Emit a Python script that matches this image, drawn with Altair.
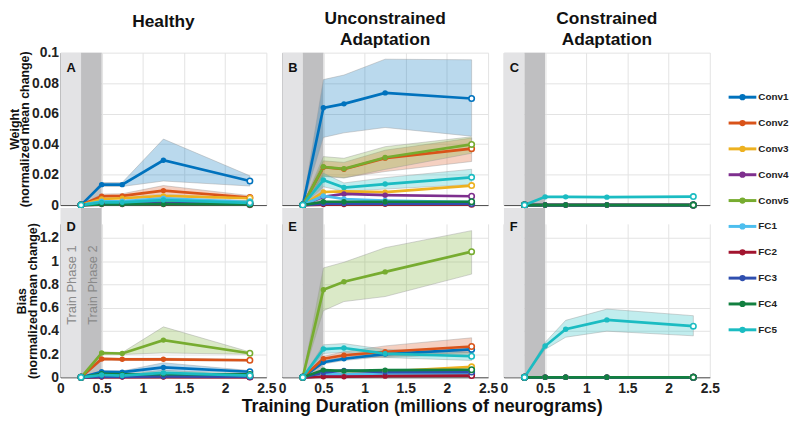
import altair as alt
import pandas as pd

X = [0.25, 0.5, 0.75, 1.25, 2.3]
SERIES = ["Conv1", "Conv2", "Conv3", "Conv4", "Conv5", "FC1", "FC2", "FC3", "FC4", "FC5"]
COLORS = ["#0072BD", "#D95319", "#EDB120", "#7E2F8E", "#77AC30",
          "#4DBEEE", "#A2142F", "#2F4FAF", "#128040", "#1BBCC2"]
COLUMNS = ["Healthy", "Unconstrained Adaptation", "Constrained Adaptation"]
X_TICKS = [0, 0.5, 1, 1.5, 2, 2.5]
W_TICKS = [0, 0.02, 0.04, 0.06, 0.08, 0.1]
B_TICKS = [0, 0.2, 0.4, 0.6, 0.8, 1, 1.2]
PHASE_LABELS = ["Train Phase 1", "Train Phase 2"]
PHASE_START = [0, 0.25]
PHASE_END = [0.25, 0.5]
PHASE_COLORS = ["#e3e3e5", "#bfbfc1"]

# ---- Weight, Healthy (A)
W_HEALTHY = {
    "Conv1": [0, 0.0134, 0.0134, 0.0294, 0.0158],
    "Conv2": [0, 0.0058, 0.0060, 0.0095, 0.0050],
    "Conv3": [0, 0.0040, 0.0045, 0.0060, 0.0045],
    "Conv4": [0, 0.0012, 0.0012, 0.0015, 0.0010],
    "Conv5": [0, 0.0020, 0.0020, 0.0030, 0.0020],
    "FC1": [0, 0.0025, 0.0025, 0.0045, 0.0020],
    "FC2": [0, 0.0003, 0.0003, 0.0004, 0.0003],
    "FC3": [0, 0.0008, 0.0008, 0.0010, 0.0008],
    "FC4": [0, 0.0005, 0.0005, 0.0006, 0.0005],
    "FC5": [0, 0.0018, 0.0018, 0.0033, 0.0015],
}
W_HEALTHY_LO = {
    "Conv1": [0, 0.0122, 0.0122, 0.0158, 0.0125],
    "Conv2": [0, 0.0045, 0.0047, 0.0072, 0.0040],
    "FC1": [0, 0.0018, 0.0018, 0.0025, 0.0012],
}
W_HEALTHY_HI = {
    "Conv1": [0, 0.0148, 0.0148, 0.0433, 0.0192],
    "Conv2": [0, 0.0072, 0.0074, 0.0128, 0.0062],
    "FC1": [0, 0.0032, 0.0032, 0.0065, 0.0028],
}

# ---- Weight, Unconstrained (B)
W_UNCON = {
    "Conv1": [0, 0.0638, 0.0664, 0.0736, 0.0699],
    "Conv2": [0, 0.0248, 0.0235, 0.0308, 0.0370],
    "Conv3": [0, 0.0086, 0.0090, 0.0085, 0.0128],
    "Conv4": [0, 0.0054, 0.0073, 0.0065, 0.0058],
    "Conv5": [0, 0.0251, 0.0238, 0.0312, 0.0398],
    "FC1": [0, 0.0060, 0.0040, 0.0030, 0.0020],
    "FC2": [0, 0.0003, 0.0004, 0.0005, 0.0005],
    "FC3": [0, 0.0010, 0.0010, 0.0010, 0.0010],
    "FC4": [0, 0.0022, 0.0022, 0.0022, 0.0022],
    "FC5": [0, 0.0164, 0.0115, 0.0138, 0.0182],
}
W_UNCON_LO = {
    "Conv1": [0, 0.0444, 0.0474, 0.0509, 0.0452],
    "Conv2": [0, 0.0190, 0.0180, 0.0220, 0.0286],
    "Conv5": [0, 0.0188, 0.0177, 0.0234, 0.0340],
    "FC5": [0, 0.0120, 0.0090, 0.0105, 0.0135],
}
W_UNCON_HI = {
    "Conv1": [0, 0.0823, 0.0853, 0.0957, 0.0953],
    "Conv2": [0, 0.0290, 0.0280, 0.0360, 0.0440],
    "Conv5": [0, 0.0318, 0.0307, 0.0383, 0.0448],
    "FC5": [0, 0.0210, 0.0145, 0.0180, 0.0235],
}

# ---- Weight, Constrained (C)
W_CON = {s: [0, 0, 0, 0, 0] for s in SERIES[:-1]}
W_CON["FC5"] = [0, 0.0054, 0.0054, 0.0052, 0.0056]
W_CON_LO = {}
W_CON_HI = {}

# ---- Bias, Healthy (D)
B_HEALTHY = {
    "Conv1": [0, 0.048, 0.045, 0.085, 0.048],
    "Conv2": [0, 0.158, 0.155, 0.155, 0.147],
    "Conv3": [0, 0.010, 0.010, 0.015, 0.010],
    "Conv4": [0, 0.004, 0.004, 0.005, 0.004],
    "Conv5": [0, 0.209, 0.205, 0.320, 0.207],
    "FC1": [0, 0.020, 0.020, 0.030, 0.020],
    "FC2": [0, 0.002, 0.002, 0.002, 0.002],
    "FC3": [0, 0.006, 0.006, 0.008, 0.006],
    "FC4": [0, 0.030, 0.025, 0.028, 0.025],
    "FC5": [0, 0.020, 0.015, 0.038, 0.015],
}
B_HEALTHY_LO = {
    "Conv1": [0, 0.040, 0.038, 0.055, 0.040],
    "Conv2": [0, 0.150, 0.147, 0.145, 0.140],
    "Conv5": [0, 0.200, 0.197, 0.210, 0.198],
    "FC5": [0, 0.015, 0.011, 0.020, 0.011],
}
B_HEALTHY_HI = {
    "Conv1": [0, 0.056, 0.054, 0.125, 0.058],
    "Conv2": [0, 0.166, 0.163, 0.165, 0.154],
    "Conv5": [0, 0.218, 0.213, 0.434, 0.218],
    "FC5": [0, 0.025, 0.019, 0.060, 0.019],
}

# ---- Bias, Unconstrained (E)
B_UNCON = {
    "Conv1": [0, 0.130, 0.160, 0.200, 0.240],
    "Conv2": [0, 0.160, 0.190, 0.220, 0.265],
    "Conv3": [0, 0.020, 0.030, 0.050, 0.090],
    "Conv4": [0, 0.010, 0.015, 0.020, 0.028],
    "Conv5": [0, 0.754, 0.822, 0.907, 1.081],
    "FC1": [0, 0.030, 0.030, 0.030, 0.030],
    "FC2": [0, 0.005, 0.005, 0.010, 0.015],
    "FC3": [0, 0.040, 0.060, 0.045, 0.045],
    "FC4": [0, 0.062, 0.055, 0.062, 0.065],
    "FC5": [0, 0.243, 0.252, 0.204, 0.181],
}
B_UNCON_LO = {
    "Conv1": [0, 0.115, 0.145, 0.180, 0.215],
    "Conv2": [0, 0.140, 0.170, 0.170, 0.200],
    "Conv5": [0, 0.573, 0.652, 0.695, 0.888],
    "FC5": [0, 0.205, 0.215, 0.170, 0.145],
}
B_UNCON_HI = {
    "Conv1": [0, 0.145, 0.175, 0.220, 0.265],
    "Conv2": [0, 0.180, 0.220, 0.270, 0.340],
    "Conv5": [0, 0.941, 0.990, 1.115, 1.262],
    "FC5": [0, 0.280, 0.290, 0.240, 0.215],
}

# ---- Bias, Constrained (F)
B_CON = {s: [0, 0, 0, 0, 0] for s in SERIES[:-1]}
B_CON["FC5"] = [0, 0.269, 0.414, 0.494, 0.440]
B_CON_LO = {"FC5": [0, 0.240, 0.345, 0.397, 0.357]}
B_CON_HI = {"FC5": [0, 0.300, 0.490, 0.587, 0.530]}

PANELS = [
    ("Weight", 0, "A", W_HEALTHY, W_HEALTHY_LO, W_HEALTHY_HI),
    ("Weight", 1, "B", W_UNCON, W_UNCON_LO, W_UNCON_HI),
    ("Weight", 2, "C", W_CON, W_CON_LO, W_CON_HI),
    ("Bias", 0, "D", B_HEALTHY, B_HEALTHY_LO, B_HEALTHY_HI),
    ("Bias", 1, "E", B_UNCON, B_UNCON_LO, B_UNCON_HI),
    ("Bias", 2, "F", B_CON, B_CON_LO, B_CON_HI),
]

PANEL_W = 208
TOP_H = 154
BOT_H = 155
color_scale = alt.Scale(domain=SERIES, range=COLORS)
phase_df = pd.DataFrame({"label": PHASE_LABELS, "start": PHASE_START,
                         "end": PHASE_END, "fill": PHASE_COLORS})


def make_panel(kind, col, letter, means, los, his):
    top = kind == "Weight"
    height = TOP_H if top else BOT_H
    ymax = 0.1 if top else 1.32
    yticks = W_TICKS if top else B_TICKS
    yfmt = ".2~f" if top else ".1~f"

    rows = []
    for si, s in enumerate(SERIES):
        for i, (xv, yv) in enumerate(zip(X, means[s])):
            rows.append({"series": s, "order": si, "i": i, "x": xv, "y": yv,
                         "open": i in (0, len(X) - 1)})
    df = pd.DataFrame(rows)
    brows = []
    for si, s in enumerate(SERIES):
        if s in los:
            for xv, lo, hi in zip(X, los[s], his[s]):
                brows.append({"series": s, "order": si, "x": xv, "lo": lo, "hi": hi})
    bdf = pd.DataFrame(brows)

    xaxis = alt.Axis(values=X_TICKS, labels=not top, title=None, labelPadding=4,
                     labelExpr="format(datum.value, '.1~f')", labelFlush=False)
    ytitle = [kind, "(normalized mean change)"] if col == 0 else None
    yaxis = alt.Axis(values=yticks, labels=(col == 0), title=ytitle,
                     labelExpr=f"format(datum.value, '{yfmt}')", labelFlush=False)
    xs = alt.Scale(domain=[0, 2.5], nice=False)
    ys = alt.Scale(domain=[0, ymax], nice=False)

    phases = alt.Chart(phase_df).mark_rect().encode(
        x=alt.X("start:Q", scale=xs, axis=xaxis),
        x2="end:Q",
        y=alt.value(0 if top else -16), y2=alt.value(height),
        fill=alt.Fill("fill:N", scale=None),
    )
    layers = [phases]
    if len(bdf):
        layers.append(alt.Chart(bdf).mark_area(
            fillOpacity=0.27, stroke="#9a9a9a", strokeWidth=0.6, strokeOpacity=0.7
        ).encode(
            x=alt.X("x:Q", scale=xs, axis=xaxis),
            y=alt.Y("lo:Q", scale=ys, axis=yaxis),
            y2="hi:Q",
            fill=alt.Fill("series:N", scale=color_scale, legend=None),
            detail="series:N",
            order="order:Q",
        ))
    base = alt.Chart(df)
    layers.append(base.mark_line(strokeWidth=2.7).encode(
        x=alt.X("x:Q", scale=xs, axis=xaxis),
        y=alt.Y("y:Q", scale=ys, axis=yaxis),
        color=alt.Color("series:N", scale=color_scale, legend=None),
        order="i:Q",
    ))
    layers.append(base.transform_filter("!datum.open").mark_circle(size=30, opacity=1).encode(
        x=alt.X("x:Q", scale=xs, axis=xaxis),
        y=alt.Y("y:Q", scale=ys, axis=yaxis),
        color=alt.Color("series:N", scale=color_scale, legend=None),
        order="order:Q",
    ))
    layers.append(base.transform_filter("datum.open").mark_point(
        shape="circle", size=30, filled=True, fill="white", strokeWidth=1.6, opacity=1
    ).encode(
        x=alt.X("x:Q", scale=xs, axis=xaxis),
        y=alt.Y("y:Q", scale=ys, axis=yaxis),
        stroke=alt.Stroke("series:N", scale=color_scale, legend=None),
        order="order:Q",
    ))
    layers.append(alt.Chart(pd.DataFrame({"t": [letter]})).mark_text(
        fontSize=13, fontWeight="bold", color="#111", align="left", baseline="middle"
    ).encode(x=alt.value(6), y=alt.value(16 if top else 3), text="t:N"))
    if letter == "D":
        layers.append(alt.Chart(phase_df).mark_text(
            fontSize=13, color="#8a8a8a", angle=270, align="left", baseline="middle"
        ).encode(
            x=alt.X("xm:Q", scale=xs, axis=xaxis),
            y=alt.value(102),
            text="label:N",
        ).transform_calculate(xm="(datum.start + datum.end) / 2 + 0.02"))

    chart = alt.layer(*layers).properties(width=PANEL_W, height=height)
    if top:
        title_text = COLUMNS[col].split(" ")
        if len(title_text) == 1:
            chart = chart.properties(title=alt.TitleParams(title_text, dy=-11))
        else:
            chart = chart.properties(title=alt.TitleParams(title_text))
    return chart


panels = [make_panel(*p) for p in PANELS]

# custom legend (line + marker + label), placed to the right of the top row
leg_df = pd.DataFrame({"series": SERIES, "k": list(range(len(SERIES)))})
leg_y = alt.Y("k:Q", axis=None,
              scale=alt.Scale(domain=[0, len(SERIES) - 1], range=[45, 280], nice=False, zero=False))
leg_color = alt.Color("series:N", scale=color_scale, legend=None)
legend = alt.layer(
    alt.Chart(leg_df).mark_rule(strokeWidth=3).encode(
        x=alt.value(3), x2=alt.value(31), y=leg_y, color=leg_color),
    alt.Chart(leg_df).mark_circle(size=40, opacity=1).encode(
        x=alt.value(17), y=leg_y, color=leg_color),
    alt.Chart(leg_df).mark_text(align="left", baseline="middle", fontSize=10,
                                fontWeight="bold", color="#222").encode(
        x=alt.value(33), y=leg_y, text="series:N"),
).properties(width=60, height=TOP_H)

cells = panels[:3] + [legend] + panels[3:]
chart = alt.concat(
    *cells, columns=4, spacing={"row": 19, "column": 16}, bounds="flush", align="each"
).properties(
    title=alt.TitleParams("Training Duration (millions of neurograms)", orient="bottom",
                          anchor="middle", fontSize=18, fontWeight="bold", dx=24, offset=3),
    padding={"left": 0, "top": 0, "right": 0, "bottom": 0},
).configure(font="Liberation Sans").configure_view(stroke=None).configure_axis(
    domainColor="#4a4a4a", domainWidth=1, gridColor="#e3e3e3", ticks=False,
    labelFontSize=14, labelFontWeight="bold", labelColor="#222", labelPadding=2,
    titleFontSize=12.5, titleFontWeight="bold", titleColor="#111", titlePadding=0,
    titleLineHeight=10.5,
).configure_title(fontSize=17.5, fontWeight="bold", color="#111", lineHeight=21, offset=0)

chart.save("out.html", embed_options={"renderer": "svg", "actions": False})
